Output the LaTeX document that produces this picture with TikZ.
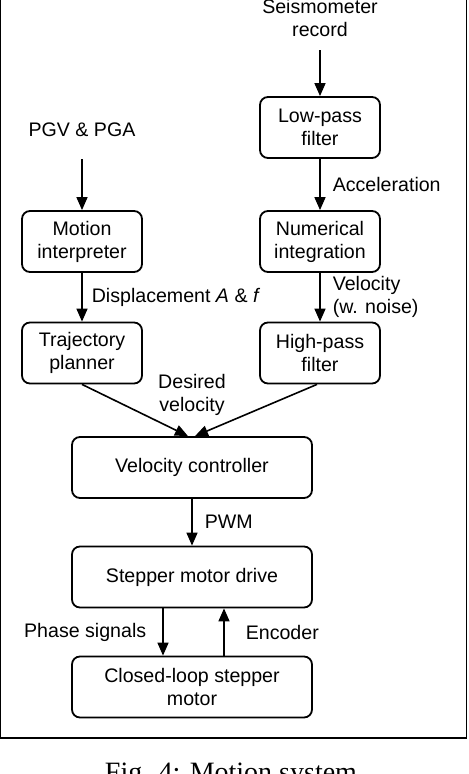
\documentclass[tikz,border=0pt]{standalone}
\usepackage{fontspec}
\setmainfont{Liberation Sans}
\newfontfamily\capfont{Liberation Serif}
\usetikzlibrary{arrows.meta}

\begin{document}
\begin{tikzpicture}[
x=0.5pt, y=-0.5pt,
font=\fontsize{9.8}{11.5}\selectfont,
block/.style={rectangle, draw, line width=0.9pt, rounded corners=4pt, minimum width=60pt, minimum height=30.5pt, align=center},
wideblock/.style={block, minimum width=120pt},
flow/.style={-{Triangle[width=5.5pt, length=6.5pt]}, line width=0.8pt},
lbl/.style={inner sep=0pt, align=left},
]
\useasboundingbox (0,0) rectangle (468,774);
\draw[line width=0.6pt] (0.8,-10) rectangle (466.8,738);

\node[align=center] (seis) at (320,18.5) {Seismometer\\record};
\node (pgv) at (82,130) {PGV \& PGA};

\node[block] (lowpass) at (320,127.5) {Low-pass\\filter};
\node[block] (numint) at (320,241.5) {Numerical\\integration};
\node[block] (highpass) at (320,353) {High-pass\\filter};
\node[block] (motion) at (82,241.5) {Motion\\interpreter};
\node[block] (traj) at (82,353) {Trajectory\\planner};
\node[wideblock] (velctrl) at (192,467.5) {Velocity controller};
\node[wideblock] (drive) at (192,577) {Stepper motor drive};
\node[wideblock] (motor) at (192,687) {Closed-loop stepper\\motor};
\node[align=center] (desired) at (192,394.5) {Desired\\velocity};

\draw[flow, shorten <=3pt] (seis) -- (lowpass);
\draw[flow, shorten <=7.5pt] (pgv) -- (motion);
\draw[flow] (lowpass) -- node[lbl, anchor=west, xshift=6pt] {Acceleration} (numint);
\draw[flow] (numint) -- node[lbl, anchor=west, xshift=6pt] {Velocity\\(w. noise)} (highpass);
\draw[flow] (motion) -- node[lbl, anchor=west, xshift=4.5pt] {Displacement \textit{A} \& \textit{f}} (traj);
\draw[flow] (traj.south) -- ([xshift=-2pt]velctrl.north);
\draw[flow] ([xshift=-1.5pt]highpass.south) -- ([xshift=1.5pt]velctrl.north);
\draw[flow] (velctrl) -- node[lbl, anchor=west, xshift=6pt] {PWM} (drive);
\draw[flow] ([xshift=-14.5pt]drive.south) -- node[lbl, anchor=east, xshift=-8pt] {Phase signals} ([xshift=-14.5pt]motor.north);
\draw[flow] ([xshift=16pt]motor.north) -- node[lbl, anchor=west, xshift=10.5pt] {Encoder} ([xshift=16pt]drive.south);

\node[font=\capfont\fontsize{14}{16}\selectfont, anchor=base] (caption) at (231,781.5) {Fig. 4: Motion system};
\end{tikzpicture}
\end{document}
